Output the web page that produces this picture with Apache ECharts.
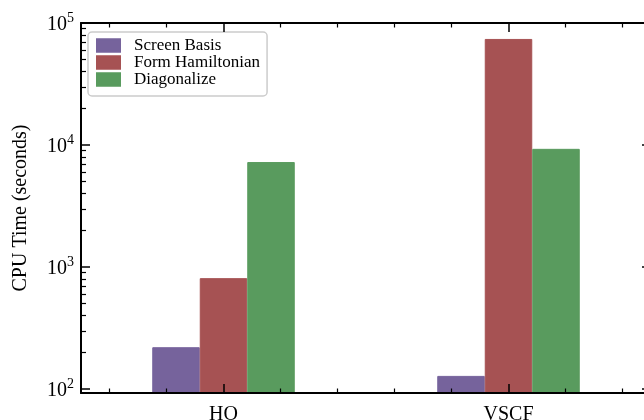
<!DOCTYPE html>
<html>
<head>
<meta charset="utf-8">
<script src="https://cdn.jsdelivr.net/npm/echarts@6/dist/echarts.min.js"></script>
<style>
  html, body { margin: 0; padding: 0; background: #fff; overflow: hidden; }
  #chart { width: 644px; height: 420px; }
</style>
</head>
<body>
<div id="chart"></div>
<script>
// CPU time per stage, for each basis
const categories = ['HO', 'VSCF'];
const seriesNames = ['Screen Basis', 'Form Hamiltonian', 'Diagonalize'];
const screenBasis = [220, 128];
const formHamiltonian = [810, 74000];
const diagonalize = [7250, 9300];
const seriesColors = ['#76639c', '#a65253', '#599b5e'];

// axis limits and tick positions
const yMin = 92.7;
const yMax = 100000;
const xMinorTicks = [-0.4, -0.2, 0.2, 0.4, 0.6, 0.8, 1.2, 1.4];

const FONT = 'Liberation Serif';
const INK = '#000';

const chart = echarts.init(document.getElementById('chart'), null, { renderer: 'canvas' });

function powLabel(v) {
  const lg = Math.log10(v);
  const e = Math.round(lg);
  if (Math.abs(lg - e) > 1e-6) return '';
  return '{b|10}{s|' + e + '}';
}

const spine = { show: true, onZero: false, lineStyle: { color: INK, width: 2 } };
const majorTick = { show: true, inside: true, length: 9, lineStyle: { color: INK, width: 1.5 } };
const minorTick = { show: true, splitNumber: 9, length: 5, lineStyle: { color: INK, width: 1.2 } };

function valueSeries(name, data, color) {
  return {
    name: name,
    type: 'bar',
    data: data,
    clip: true,
    barGap: '0%',
    barCategoryGap: '50%',
    itemStyle: { color: color, borderColor: color, borderWidth: 1 },
    emphasis: { disabled: true },
    z: 2
  };
}

// the plot area runs a little past the right edge of the canvas
chart.setOption({
  animation: false,
  backgroundColor: '#fff',
  grid: { left: 81, top: 23, width: 570, height: 370, containLabel: false, outerBoundsMode: 'none' },
  legend: {
    orient: 'vertical',
    left: 88,
    top: 32,
    padding: [5, 7, 8, 8],
    itemWidth: 23,
    itemHeight: 12.5,
    itemGap: 0,
    icon: 'rect',
    backgroundColor: 'rgba(255,255,255,0.85)',
    borderColor: '#cccccc',
    borderWidth: 1.5,
    borderRadius: 4,
    textStyle: { fontFamily: FONT, fontSize: 17, color: INK, lineHeight: 16, padding: [0, 0, 0, 9] },
    data: seriesNames
  },
  xAxis: [
    {
      type: 'category', data: categories, position: 'bottom', z: 10,
      axisLine: spine,
      axisTick: Object.assign({ alignWithLabel: true, interval: 0 }, majorTick),
      axisLabel: { fontFamily: FONT, fontSize: 20, color: INK, margin: 12 },
      splitLine: { show: false }
    },
    {
      type: 'category', data: categories, position: 'top', z: 10,
      axisLine: spine,
      axisTick: Object.assign({ alignWithLabel: true, interval: 0 }, majorTick),
      axisLabel: { show: false },
      splitLine: { show: false }
    },
    {
      type: 'value', min: -0.5, max: 1.5, position: 'bottom', z: 10,
      axisLine: { show: false },
      axisTick: { show: true, inside: true, length: 4.5, customValues: xMinorTicks, lineStyle: { color: INK, width: 1.2 } },
      axisLabel: { show: false },
      splitLine: { show: false }
    },
    {
      type: 'value', min: -0.5, max: 1.5, position: 'top', z: 10,
      axisLine: { show: false },
      axisTick: { show: true, inside: true, length: 4.5, customValues: xMinorTicks, lineStyle: { color: INK, width: 1.2 } },
      axisLabel: { show: false },
      splitLine: { show: false }
    }
  ],
  yAxis: [
    {
      type: 'log', logBase: 10, min: yMin, max: yMax, position: 'left', z: 10,
      axisLine: spine,
      axisTick: majorTick,
      minorTick: minorTick,
      splitLine: { show: false },
      minorSplitLine: { show: false },
      axisLabel: {
        margin: 7,
        formatter: powLabel,
        rich: {
          b: { fontFamily: FONT, fontSize: 20, color: INK, lineHeight: 24, verticalAlign: 'bottom' },
          s: { fontFamily: FONT, fontSize: 14, color: INK, lineHeight: 14, verticalAlign: 'top' }
        }
      },
      name: 'CPU Time (seconds)',
      nameLocation: 'middle',
      nameRotate: 90,
      nameGap: 50,
      nameTextStyle: { fontFamily: FONT, fontSize: 20, color: INK }
    },
    {
      type: 'log', logBase: 10, min: yMin, max: yMax, position: 'right', z: 10,
      axisLine: spine,
      axisTick: majorTick,
      minorTick: minorTick,
      splitLine: { show: false },
      minorSplitLine: { show: false },
      axisLabel: { show: false }
    }
  ],
  series: [
    valueSeries(seriesNames[0], screenBasis, seriesColors[0]),
    valueSeries(seriesNames[1], formHamiltonian, seriesColors[1]),
    valueSeries(seriesNames[2], diagonalize, seriesColors[2])
  ]
});
</script>
</body>
</html>
